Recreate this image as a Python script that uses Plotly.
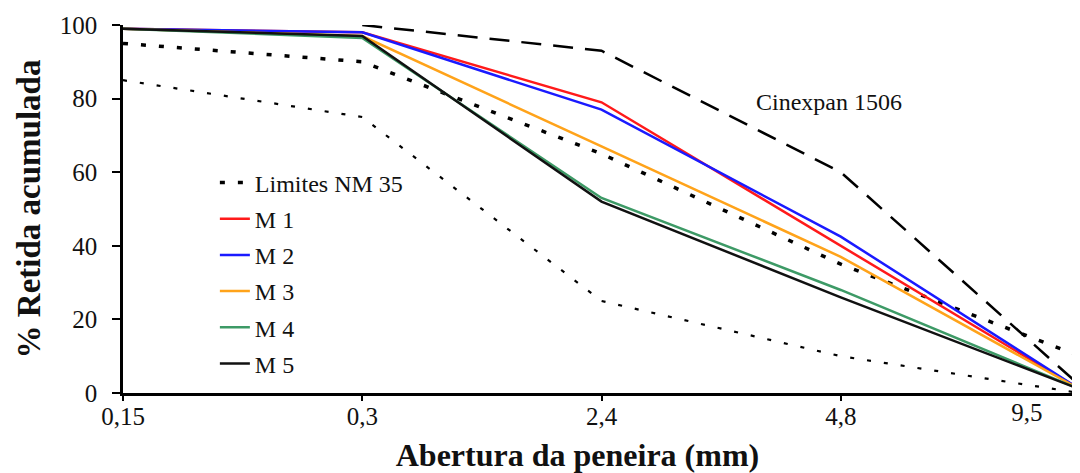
import plotly.graph_objects as go

# ---- data ----
aberturas = ["0,15", "0,3", "2,4", "4,8", "9,5"]

lim_sup = [95, 90, 65, 35, 10]
lim_inf = [85, 75, 25, 10, 0]
cinexpan_x = ["0,3", "2,4", "4,8", "9,5"]
cinexpan = [100, 93, 60, 2]

m1 = [99, 98, 79, 40, 1]
m2 = [99, 98, 77, 42.5, 1]
m3 = [99, 97, 67, 37, 1]
m4 = [99, 96.5, 53, 28, 1]
m5 = [99, 97, 52, 26, 1]

# first four labels on the main axis, the last one (at the plot edge) on a matched axis
main_ticktext = aberturas[:-1] + [""]
last_ticktext = [aberturas[-1] + "\u2002" * 3]

FONT = "Liberation Serif, Times New Roman, serif"

fig = go.Figure()

fig.add_trace(go.Scatter(x=aberturas, y=lim_sup, mode="lines", name="Limites NM 35",
                         legendgroup="g0",
                         line=dict(color="black", width=3.5, dash="5px,13px")))
fig.add_trace(go.Scatter(x=aberturas, y=lim_inf, mode="lines", name="Limites NM 35",
                         legendgroup="g0", showlegend=False, xaxis="x2",
                         line=dict(color="black", width=2.2, dash="4px,13px")))
fig.add_trace(go.Scatter(x=cinexpan_x, y=cinexpan, mode="lines", name="Cinexpan 1506",
                         showlegend=False,
                         line=dict(color="black", width=2.5, dash="20px,12px")))

series = [("M 1", m1, "#ff1a1a"), ("M 2", m2, "#1a1aff"), ("M 3", m3, "#ffa31a"),
          ("M 4", m4, "#3d9a66"), ("M 5", m5, "#111111")]
for i, (nm, vals, col) in enumerate(series):
    fig.add_trace(go.Scatter(x=aberturas, y=vals, mode="lines", name=nm,
                             legendgroup="g%d" % (i + 1),
                             line=dict(color=col, width=2.5)))

fig.add_annotation(x=2.95, y=79, xref="x", yref="y", text="Cinexpan 1506",
                   showarrow=False, font=dict(family=FONT, size=24, color="#111"))

tickfont = dict(family=FONT, size=25, color="#111")

# the page body adds an 8px offset, so the figure is sized 1072x465
fig.update_layout(
    width=1072, height=465,
    margin=dict(l=115, r=0, t=17, b=80, autoexpand=False),
    paper_bgcolor="white", plot_bgcolor="white",
    font=dict(family=FONT, color="#111"),
    legend=dict(x=0.096, y=0.632, xanchor="left", yanchor="top",
                bgcolor="rgba(0,0,0,0)", font=dict(family=FONT, size=24, color="#111"),
                tracegroupgap=2, traceorder="grouped"),
    xaxis=dict(type="category", categoryorder="array", categoryarray=aberturas,
               range=[0, 4], tickvals=aberturas, ticktext=main_ticktext, automargin=False,
               showgrid=False, zeroline=False, showline=True, linecolor="black",
               linewidth=2.5, ticks="outside", ticklen=5, tickwidth=2, tickcolor="black",
               ticklabelstandoff=-6, tickfont=tickfont,
               title=dict(text="<b>Abertura da peneira (mm)\u2002\u2002\u2002</b>", standoff=19,
                          font=dict(family=FONT, size=32, color="#111"))),
    xaxis2=dict(type="category", categoryorder="array", categoryarray=aberturas,
                matches="x", overlaying="x", anchor="y", side="bottom",
                tickvals=aberturas[-1:], ticktext=last_ticktext, automargin=False,
                ticklabelposition="outside left", ticklabelstandoff=2,
                showgrid=False, zeroline=False, showline=False, ticks="",
                tickfont=tickfont),
    yaxis=dict(range=[0, 100], tickvals=[0, 20, 40, 60, 80, 100], automargin=False,
               showgrid=False, zeroline=False, showline=True, linecolor="black",
               linewidth=2.5, ticks="outside", ticklen=8, tickwidth=2, tickcolor="black",
               ticklabelstandoff=10, tickfont=tickfont,
               title=dict(text="<b>% Retida acumulada</b>", standoff=10,
                          font=dict(family=FONT, size=33, color="#111"))),
)

fig.write_html("out.html")
